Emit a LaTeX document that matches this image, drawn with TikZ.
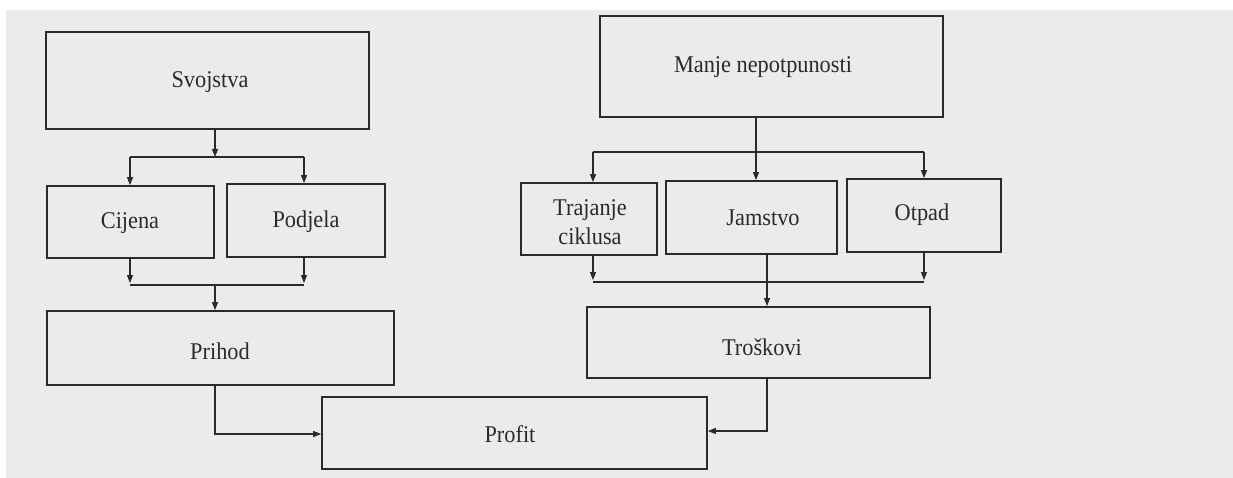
\documentclass[tikz,border=0pt]{standalone}
\usepackage{fontspec}
\setmainfont{Liberation Serif}
\usetikzlibrary{arrows.meta}
\definecolor{ink}{HTML}{2A2A2A}
\definecolor{paper}{HTML}{EBEBEA}
\begin{document}
\begin{tikzpicture}[x=1pt,y=-1pt,
  lbl/.style={text=ink,font=\fontsize{24}{29}\selectfont,align=center,xscale=0.93,inner sep=0pt},
  box/.style={draw=ink,line width=1.8pt,inner sep=0pt},
  conn/.style={draw=ink,line width=1.1pt},
  arr/.style={conn,-{Triangle[length=8pt,width=6pt]}}]
\useasboundingbox (0,0) rectangle (1233,478);
\fill[paper] (6,10) rectangle (1233,478);
% boxes
\node[box,minimum width=323pt,minimum height=97pt] (sv) at (207.5,80.5) {};
\node[lbl] at (210,82) {Svojstva};
\node[box,minimum width=343pt,minimum height=101pt] (mn) at (771.5,66.5) {};
\node[lbl] at (763,67) {Manje nepotpunosti};
\node[box,minimum width=167pt,minimum height=72pt] (ci) at (130.5,222) {};
\node[lbl] at (130,223) {Cijena};
\node[box,minimum width=158pt,minimum height=73pt] (po) at (306,220.5) {};
\node[lbl] at (306,222) {Podjela};
\node[box,minimum width=136pt,minimum height=72pt] (tr) at (589,219) {};
\node[lbl] at (590,222) {Trajanje\\ciklusa};
\node[box,minimum width=171pt,minimum height=73pt] (ja) at (751.5,217.5) {};
\node[lbl] at (763,218) {Jamstvo};
\node[box,minimum width=154pt,minimum height=73pt] (ot) at (924,215.5) {};
\node[lbl] at (922,215) {Otpad};
\node[box,minimum width=347pt,minimum height=74pt] (pr) at (220.5,348) {};
\node[lbl] at (220,351) {Prihod};
\node[box,minimum width=343pt,minimum height=71pt] (ts) at (758.5,342.5) {};
\node[lbl] at (762,347) {Troškovi};
\node[box,minimum width=385pt,minimum height=72pt] (pf) at (514.5,433) {};
\node[lbl] at (510,434) {Profit};
% junctions
\coordinate (j1) at (215,157);
\coordinate (j2) at (215,285);
\coordinate (j3) at (756,152);
\coordinate (j4) at (767,282);
% Svojstva -> Cijena, Podjela
\draw[arr] (sv.south -| j1) -- (j1);
\draw[conn] (130,157) -- (304,157);
\draw[arr] (130,157) -- (ci.north -| 130,0);
\draw[arr] (304,157) -- (po.north -| 304,0);
% Cijena, Podjela -> Prihod
\draw[arr] (ci.south -| 130,0) -- (130,283);
\draw[arr] (po.south -| 304,0) -- (304,283);
\draw[conn] (130,285) -- (304,285);
\draw[arr] (j2) -- (pr.north -| j2);
% Manje -> three
\draw[arr] (mn.south -| j3) -- (ja.north -| j3);
\draw[conn] (593,152) -- (924,152);
\draw[arr] (593,152) -- (tr.north -| 593,0);
\draw[arr] (924,152) -- (ot.north -| 924,0);
% three -> Troskovi
\draw[arr] (tr.south -| 593,0) -- (593,280);
\draw[arr] (ot.south -| 924,0) -- (924,280);
\draw[conn] (593,282) -- (924,282);
\draw[arr] (ja.south -| j4) -- (ts.north -| j4);
% Prihod -> Profit
\coordinate (k1) at (215,434);
\draw[arr] (pr.south -| k1) -- (k1) -- (pf.west |- k1);
% Troskovi -> Profit
\coordinate (k2) at (767,431);
\draw[arr] (ts.south -| k2) -- (k2) -- (pf.east |- k2);
\end{tikzpicture}
\end{document}
